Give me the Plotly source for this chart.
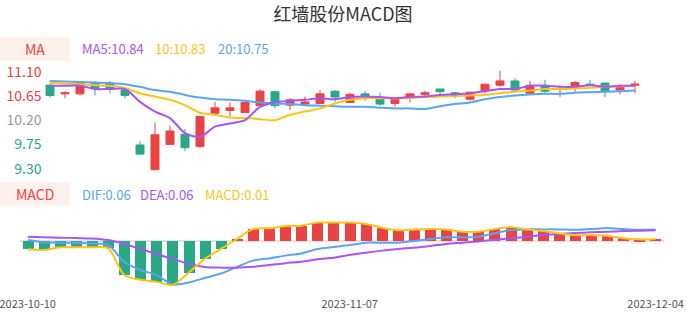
import plotly.graph_objects as go

dates = ["2023-10-10", "2023-10-11", "2023-10-12", "2023-10-13", "2023-10-16", "2023-10-17",
         "2023-10-18", "2023-10-19", "2023-10-20", "2023-10-23", "2023-10-24", "2023-10-25",
         "2023-10-26", "2023-10-27", "2023-10-30", "2023-10-31", "2023-11-01", "2023-11-02",
         "2023-11-03", "2023-11-06", "2023-11-07", "2023-11-08", "2023-11-09", "2023-11-10",
         "2023-11-13", "2023-11-14", "2023-11-15", "2023-11-16", "2023-11-17", "2023-11-20",
         "2023-11-21", "2023-11-22", "2023-11-23", "2023-11-24", "2023-11-27", "2023-11-28",
         "2023-11-29", "2023-11-30", "2023-12-01", "2023-12-04"]

open_ = [10.85, 10.69, 10.69, 10.89, 10.89, 10.76, 9.74, 9.28, 9.75, 9.94, 9.71, 10.33, 10.38, 10.34,
         10.47, 10.73, 10.48, 10.50, 10.51, 10.74, 10.53, 10.69, 10.59, 10.51, 10.61, 10.68, 10.78,
         10.71, 10.59, 10.75, 10.85, 10.93, 10.70, 10.85, 10.77, 10.82, 10.87, 10.89, 10.76, 10.85]
close = [10.66, 10.71, 10.89, 10.78, 10.78, 10.66, 9.57, 9.93, 10.00, 9.69, 10.27, 10.43, 10.43, 10.53,
         10.74, 10.47, 10.58, 10.54, 10.69, 10.63, 10.68, 10.64, 10.50, 10.59, 10.69, 10.71, 10.73,
         10.67, 10.72, 10.87, 10.93, 10.76, 10.85, 10.74, 10.79, 10.90, 10.85, 10.75, 10.81, 10.87]
high = [10.89, 10.74, 10.89, 10.92, 10.93, 10.79, 9.81, 10.16, 10.10, 10.04, 10.28, 10.54, 10.53, 10.57,
        10.78, 10.75, 10.61, 10.64, 10.76, 10.76, 10.71, 10.74, 10.71, 10.59, 10.69, 10.75, 10.78,
        10.73, 10.73, 10.87, 11.12, 10.98, 10.93, 10.95, 10.85, 10.93, 10.95, 10.90, 10.87, 10.93]
low = [10.62, 10.61, 10.66, 10.66, 10.70, 10.61, 9.56, 9.27, 9.74, 9.63, 9.69, 10.31, 10.27, 10.34,
       10.45, 10.42, 10.39, 10.50, 10.50, 10.54, 10.53, 10.56, 10.47, 10.45, 10.53, 10.63, 10.65,
       10.61, 10.56, 10.70, 10.82, 10.75, 10.69, 10.70, 10.63, 10.73, 10.84, 10.63, 10.68, 10.70]

ma5 = [10.84, 10.84, 10.84, 10.78, 10.78, 10.78, 10.54, 10.36, 10.24, 9.96, 9.89, 10.08, 10.14, 10.20,
       10.45, 10.53, 10.56, 10.58, 10.61, 10.59, 10.63, 10.64, 10.63, 10.61, 10.63, 10.64, 10.67,
       10.68, 10.70, 10.74, 10.78, 10.78, 10.84, 10.84, 10.82, 10.82, 10.85, 10.82, 10.84, 10.84]
ma10 = [10.90, 10.88, 10.87, 10.85, 10.84, 10.80, 10.70, 10.64, 10.58, 10.48, 10.34, 10.30, 10.25, 10.24,
        10.22, 10.20, 10.30, 10.36, 10.42, 10.51, 10.58, 10.61, 10.61, 10.61, 10.61, 10.63, 10.64,
        10.65, 10.66, 10.67, 10.70, 10.73, 10.75, 10.78, 10.78, 10.79, 10.80, 10.82, 10.83, 10.83]
ma20 = [10.93, 10.92, 10.91, 10.90, 10.89, 10.87, 10.82, 10.76, 10.73, 10.67, 10.62, 10.59, 10.58, 10.56,
        10.53, 10.51, 10.50, 10.48, 10.47, 10.46, 10.45, 10.45, 10.43, 10.42, 10.42, 10.41, 10.46,
        10.50, 10.53, 10.59, 10.63, 10.66, 10.68, 10.69, 10.69, 10.71, 10.72, 10.73, 10.74, 10.75]

dif = [0.005, -0.007, -0.009, -0.009, -0.013, -0.022, -0.112, -0.157, -0.184, -0.235, -0.224, -0.200,
       -0.176, -0.140, -0.106, -0.094, -0.079, -0.067, -0.043, -0.032, -0.022, -0.009, -0.009, -0.009,
       0.000, 0.011, 0.020, 0.020, 0.023, 0.042, 0.059, 0.063, 0.063, 0.063, 0.061, 0.065, 0.070,
       0.065, 0.061, 0.061]
dea = [0.023, 0.020, 0.018, 0.016, 0.014, 0.005, -0.016, -0.043, -0.070, -0.097, -0.123, -0.140,
       -0.144, -0.144, -0.139, -0.130, -0.120, -0.112, -0.099, -0.090, -0.076, -0.063, -0.052, -0.043,
       -0.036, -0.027, -0.016, -0.009, -0.002, 0.007, 0.014, 0.023, 0.032, 0.038, 0.043, 0.047, 0.050,
       0.054, 0.056, 0.058]
macd = [-0.045, -0.049, -0.034, -0.034, -0.034, -0.040, -0.184, -0.210, -0.220, -0.238, -0.171, -0.097,
        -0.043, 0.011, 0.065, 0.069, 0.081, 0.083, 0.100, 0.100, 0.100, 0.092, 0.072, 0.058, 0.063,
        0.065, 0.063, 0.050, 0.050, 0.065, 0.076, 0.063, 0.054, 0.042, 0.032, 0.032, 0.029, 0.015,
        0.009, 0.011]

price_ticks = [9.30, 9.75, 10.20, 10.65, 11.10]
date_ticks = ["2023-10-10", "2023-11-07", "2023-12-04"]

RED = "#e94343"
GREEN = "#2aa784"
PURPLE = "#a855f7"
YELLOW = "#fcc419"
BLUE = "#5aa5f2"
FONT = "Noto Sans CJK SC"

W, H = 686, 320


def px(x):
    return x / W


def py(y):
    return 1 - y / H


fig = go.Figure()

fig.add_trace(go.Candlestick(
    x=dates, open=open_, high=high, low=low, close=close,
    increasing=dict(line=dict(color=RED, width=1), fillcolor=RED),
    decreasing=dict(line=dict(color=GREEN, width=1), fillcolor=GREEN),
    whiskerwidth=0, xaxis="x", yaxis="y", showlegend=False,
))
for vals, col in [(ma20, BLUE), (ma10, YELLOW), (ma5, PURPLE)]:
    fig.add_trace(go.Scatter(x=dates, y=vals, mode="lines",
                             line=dict(color=col, width=2, shape="spline", smoothing=0.8),
                             xaxis="x", yaxis="y", showlegend=False, hoverinfo="skip"))

fig.add_trace(go.Bar(x=dates, y=macd, width=0.68,
                     marker=dict(color=[RED if v >= 0 else GREEN for v in macd], line=dict(width=0)),
                     xaxis="x2", yaxis="y2", showlegend=False))
for vals, col in [(dif, BLUE), (dea, PURPLE), (macd, YELLOW)]:
    fig.add_trace(go.Scatter(x=dates, y=vals, mode="lines",
                             line=dict(color=col, width=2, shape="spline", smoothing=0.8),
                             xaxis="x2", yaxis="y2", showlegend=False, hoverinfo="skip"))

tick_colors = [GREEN, GREEN, "#999999", RED, RED]
ticktext = ['<span style="color:%s">%.2f</span>' % (c, v) for v, c in zip(price_ticks, tick_colors)]

fig.update_layout(
    width=W, height=H,
    margin=dict(l=0, r=0, t=0, b=0, autoexpand=False),
    paper_bgcolor="white", plot_bgcolor="white",
    font=dict(family=FONT, color="#555555"),
    boxgap=0.24, boxgroupgap=0.3,
    bargap=0,
    title=dict(text="红墙股份MACD图", x=0.5, xanchor="center", y=py(15), yanchor="middle",
               font=dict(family=FONT, size=18, color="#333333"), automargin=False),
    xaxis=dict(type="category", domain=[px(42.5), px(642.5)], range=[-0.5, 39.5],
               showticklabels=False, showgrid=False, zeroline=False, showline=False,
               rangeslider=dict(visible=False), anchor="y", fixedrange=True, automargin=False),
    yaxis=dict(domain=[py(175), py(65)], range=[9.182, 11.226], tickvals=price_ticks,
               ticktext=ticktext, showgrid=False, zeroline=False, showline=False,
               tickfont=dict(family=FONT, size=14), anchor="x", fixedrange=True, automargin=False),
    xaxis2=dict(type="category", domain=[px(19.65), px(663.65)], range=[-0.5, 39.5],
                tickvals=date_ticks, ticktext=date_ticks, showgrid=False, zeroline=False,
                showline=False, tickfont=dict(family=FONT, size=11, color="#555555"),
                anchor="free", position=py(296), ticks="", fixedrange=True, automargin=False),
    yaxis2=dict(domain=[py(295), py(212)], range=[-0.292, 0.157], showticklabels=False,
                showgrid=False, zeroline=True, zerolinecolor="#e2e2e2", zerolinewidth=2,
                anchor="x2", fixedrange=True, automargin=False),
)

# legend boxes
for y0, y1, label in [(37, 61, "MA"), (182, 205.7, "MACD")]:
    fig.add_shape(type="rect", xref="paper", yref="paper", x0=0, x1=px(70), y0=py(y1), y1=py(y0),
                  fillcolor="#fdf1ed", line=dict(width=0), layer="below")
    fig.add_annotation(xref="paper", yref="paper", x=px(35), y=py((y0 + y1) / 2), text=label,
                       showarrow=False, xanchor="center", yanchor="middle",
                       font=dict(family=FONT, size=14, color=RED))

legend_items = [
    (80, 49, "MA5:%.2f" % ma5[-1], PURPLE),
    (153, 49, "10:%.2f" % ma10[-1], YELLOW),
    (216, 49, "20:%.2f" % ma20[-1], BLUE),
    (80, 194, "DIF:%.2f" % dif[-1], BLUE),
    (138, 194, "DEA:%.2f" % dea[-1], PURPLE),
    (203, 194, "MACD:%.2f" % macd[-1], YELLOW),
]
for x, y, t, c in legend_items:
    fig.add_annotation(xref="paper", yref="paper", x=px(x), y=py(y), text=t, showarrow=False,
                       xanchor="left", yanchor="middle", font=dict(family=FONT, size=13, color=c))

fig.write_html("out.html")
